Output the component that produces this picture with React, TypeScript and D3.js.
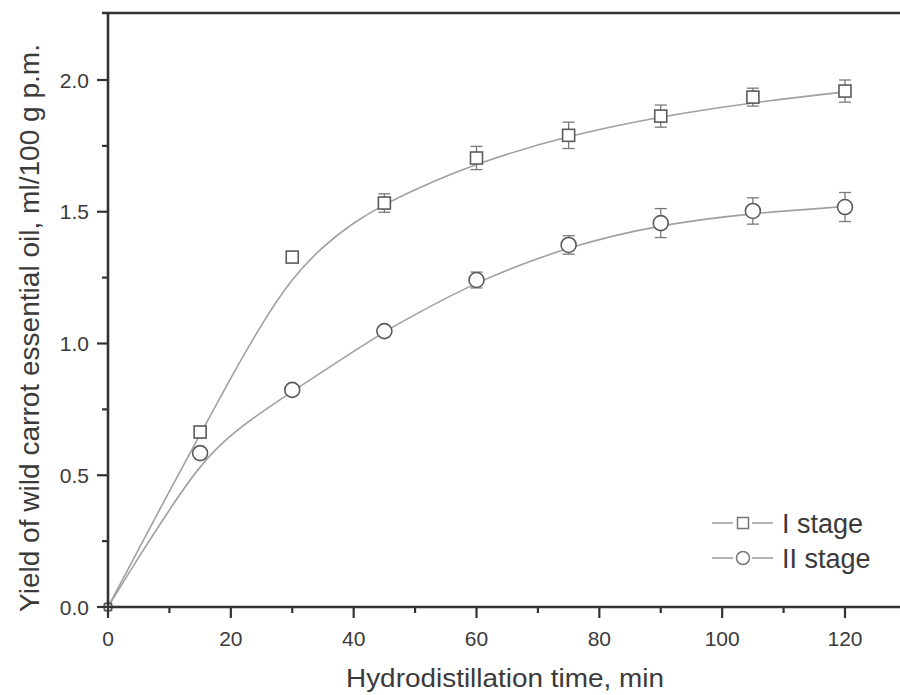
import * as d3 from "d3";

// measured points (min, yield) and their error half-widths
const times = [0, 15, 30, 45, 60, 75, 90, 105, 120];
const stage1 = [0, 0.664, 1.328, 1.533, 1.704, 1.79, 1.863, 1.935, 1.958];
const stage1Err = [0, 0.012, 0.012, 0.035, 0.044, 0.05, 0.042, 0.034, 0.042];
const stage2 = [0, 0.584, 0.824, 1.047, 1.241, 1.374, 1.457, 1.503, 1.518];
const stage2Err = [0, 0.012, 0.015, 0.01, 0.03, 0.035, 0.055, 0.05, 0.055];

// fitted curves
const fitTimes = [0, 5, 10, 15, 20, 25, 30, 35, 40, 45, 50, 60, 75, 90, 105, 120];
const fit1 = [0, 0.22, 0.44, 0.655, 0.87, 1.075, 1.25, 1.37, 1.46, 1.528, 1.585, 1.685, 1.79, 1.862, 1.915, 1.955];
const fit2 = [0, 0.19, 0.37, 0.54, 0.655, 0.74, 0.818, 0.894, 0.97, 1.045, 1.11, 1.235, 1.37, 1.452, 1.495, 1.52];

const xTicks = [0, 20, 40, 60, 80, 100, 120];
const xMinor = [10, 30, 50, 70, 90, 110, 130];
const yTicks = [0, 0.5, 1.0, 1.5, 2.0];
const yMinor = [0.25, 0.75, 1.25, 1.75];

const legendLabels = ["I stage", "II stage"];

const W = 900, H = 695;
const font = "'Liberation Sans', Arial, sans-serif";
const axisColor = "#333";
const textColor = "#3a3a3a";
const lineColor = "#a0a0a0";
const markColor = "#5a5a5a";

export default function App() {
  const x = d3.scaleLinear().domain([0, 120]).range([108, 845]);
  const y = d3.scaleLinear().domain([0, 2.0]).range([607, 80]);
  const xEnd = W;
  const yTop = 13;

  const line = d3.line<number>()
    .x((_, i) => x(fitTimes[i]))
    .y((d) => y(d))
    .curve(d3.curveBasis);

  const fitPath1 = line(fit1) || "";
  const fitPath2 = line(fit2) || "";

  const square = (cx: number, cy: number, s: number, key: string) => (
    <rect key={key} x={cx - s / 2} y={cy - s / 2} width={s} height={s}
      fill="white" stroke={markColor} strokeWidth={1.6} />
  );
  const circle = (cx: number, cy: number, r: number, key: string) => (
    <circle key={key} cx={cx} cy={cy} r={r} fill="white" stroke={markColor} strokeWidth={1.6} />
  );

  const errBars = (vals: number[], errs: number[], pre: string) =>
    times.map((t, i) => {
      if (errs[i] <= 0) return null;
      const cx = x(t);
      const y1 = y(vals[i] + errs[i]);
      const y2 = y(vals[i] - errs[i]);
      return (
        <g key={pre + i} stroke="#7a7a7a" strokeWidth={1.3}>
          <line x1={cx} x2={cx} y1={y1} y2={y2} />
          <line x1={cx - 6} x2={cx + 6} y1={y1} y2={y1} />
          <line x1={cx - 6} x2={cx + 6} y1={y2} y2={y2} />
        </g>
      );
    });

  return (
    <svg width={W} height={H} style={{ position: "absolute", left: 0, top: 0, background: "white" }}
      fontFamily={font}>
      {/* fitted curves */}
      <path d={fitPath1} fill="none" stroke={lineColor} strokeWidth={1.6} />
      <path d={fitPath2} fill="none" stroke={lineColor} strokeWidth={1.6} />

      {errBars(stage1, stage1Err, "e1")}
      {errBars(stage2, stage2Err, "e2")}

      {times.map((t, i) => square(x(t), y(stage1[i]), i === 0 ? 7 : 12, "s" + i))}
      {times.map((t, i) => circle(x(t), y(stage2[i]), i === 0 ? 4 : 7.5, "c" + i))}

      {/* axes frame */}
      <g stroke={axisColor} strokeWidth={2.6} fill="none">
        <line x1={102} x2={xEnd} y1={yTop} y2={yTop} />
        <line x1={x(0)} x2={x(0)} y1={yTop} y2={y(0)} />
        <line x1={x(0) - 1} x2={xEnd} y1={y(0)} y2={y(0)} />
      </g>
      <g stroke={axisColor} strokeWidth={2.2} fill="none">
        {xTicks.map((t) => <line key={"xt" + t} x1={x(t)} x2={x(t)} y1={y(0)} y2={y(0) + 11} />)}
        {xMinor.map((t) => <line key={"xm" + t} x1={x(t)} x2={x(t)} y1={y(0)} y2={y(0) + 6} />)}
        {yTicks.map((v) => <line key={"yt" + v} x1={x(0) - 11} x2={x(0)} y1={y(v)} y2={y(v)} />)}
        {yMinor.map((v) => <line key={"ym" + v} x1={x(0) - 6} x2={x(0)} y1={y(v)} y2={y(v)} />)}
      </g>

      {/* tick labels */}
      <g fill={textColor} fontSize={21}>
        {xTicks.map((t) => (
          <text key={"xl" + t} x={x(t)} y={646} textAnchor="middle">{t}</text>
        ))}
        {yTicks.map((v) => (
          <text key={"yl" + v} x={89} y={y(v)} dy="0.36em" textAnchor="end">{d3.format(".1f")(v)}</text>
        ))}
      </g>

      {/* axis titles */}
      <text x={505} y={687} textAnchor="middle" fontSize={26} fill={textColor}
        textLength={318} lengthAdjust="spacingAndGlyphs">Hydrodistillation time, min</text>
      <text transform={`translate(39,${328}) rotate(-90)`} textAnchor="middle" fontSize={28}
        fill={textColor} textLength={568} lengthAdjust="spacingAndGlyphs">
        Yield of wild carrot essential oil, ml/100 g p.m.
      </text>

      {/* legend */}
      {legendLabels.map((lab, i) => {
        const ly = 523 + i * 35;
        return (
          <g key={lab}>
            <line x1={712} x2={733} y1={ly} y2={ly} stroke={lineColor} strokeWidth={1.6} />
            <line x1={752} x2={773} y1={ly} y2={ly} stroke={lineColor} strokeWidth={1.6} />
            {i === 0
              ? <rect x={737.5} y={ly - 5.5} width={11} height={11} fill="white" stroke="#777" strokeWidth={1.5} />
              : <circle cx={743} cy={ly} r={6.5} fill="white" stroke="#777" strokeWidth={1.5} />}
            <text x={782} y={ly + 10} fontSize={27} fill={textColor}>{lab}</text>
          </g>
        );
      })}
    </svg>
  );
}
